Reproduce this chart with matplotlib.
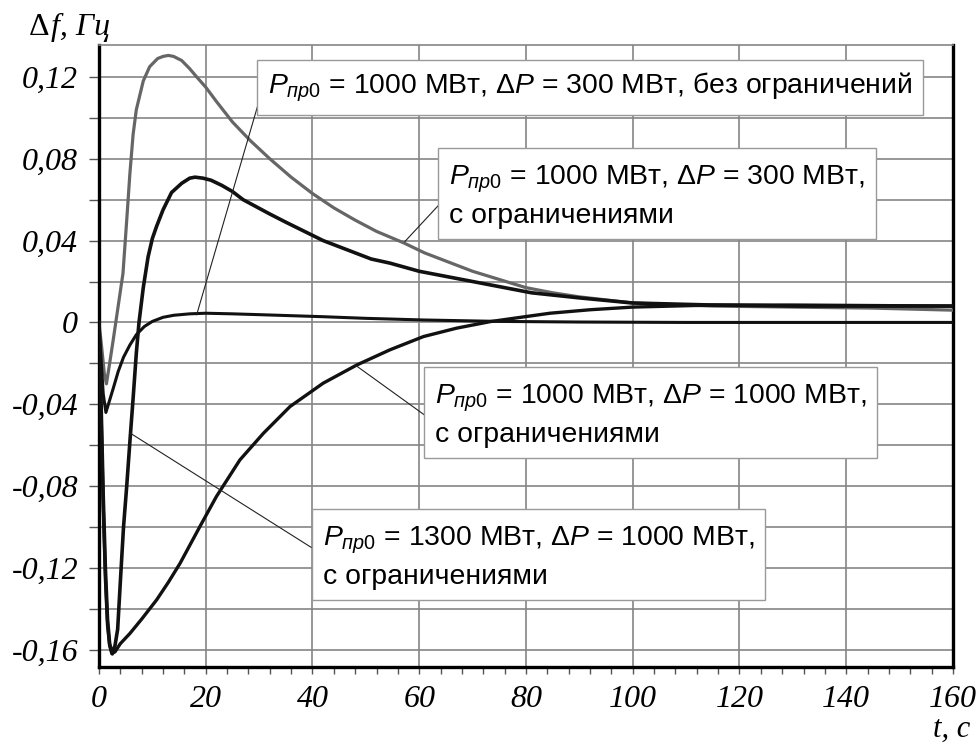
import matplotlib
matplotlib.use('Agg')
import matplotlib.pyplot as plt
from matplotlib.ticker import MultipleLocator, FuncFormatter

plt.rcParams['font.family'] = ['Liberation Sans', 'DejaVu Sans']
plt.rcParams['mathtext.fontset'] = 'custom'
plt.rcParams['mathtext.rm'] = 'Liberation Sans'
plt.rcParams['mathtext.it'] = 'Liberation Sans:italic'

# P=1000, dP=300, без ограничений
t_a = [0, 0.4, 0.8, 1.3, 2.0, 2.7, 3.6, 4.6, 5.8, 7.0, 8.5, 10, 12, 14, 17, 20,
       25, 30, 42, 50, 60.8, 75, 90, 110, 130, 160]
f_a = [0, -0.018, -0.035, -0.044, -0.038, -0.032, -0.024, -0.017, -0.011, -0.006,
       -0.002, 0.0005, 0.0025, 0.0035, 0.0042, 0.0045, 0.0042, 0.0038, 0.0028,
       0.002, 0.0012, 0.0005, 0.0002, 0.0, 0.0, 0.0]

# P=1000, dP=300, с ограничениями (серая)
t_b = [0, 0.5, 1.0, 1.4, 2.0, 2.7, 3.6, 4.5, 5.2, 5.8, 6.4, 7.0, 8.3, 9.5, 11, 12,
       13, 14, 15.5, 17, 18.3, 20, 22, 25, 28.3, 32, 36, 40, 44, 48, 52, 57, 61,
       66, 70, 75, 80, 85, 90, 100, 115, 130, 145, 160]
f_b = [0, -0.012, -0.025, -0.030, -0.020, -0.008, 0.008, 0.024, 0.05, 0.073, 0.092,
       0.104, 0.118, 0.125, 0.129, 0.130, 0.1305, 0.130, 0.128, 0.124, 0.120, 0.115,
       0.108, 0.098, 0.089, 0.080, 0.071, 0.063, 0.056, 0.050, 0.0445, 0.039, 0.034,
       0.029, 0.025, 0.021, 0.017, 0.0145, 0.0125, 0.0095, 0.008, 0.0075, 0.007,
       0.006]

# P=1300, dP=1000, с ограничениями
t_c = [0, 0.4, 0.8, 1.2, 1.6, 2.0, 2.5, 3.0, 3.5, 4.0, 4.6, 5.2, 5.8, 6.4, 7.0, 7.5,
       8.3, 9.2, 10.0, 10.8, 12, 13.6, 15.5, 17, 18, 19.5, 21, 23, 25, 27, 29.5, 32,
       35, 38.5, 42, 45, 48, 51, 54.5, 60, 66, 72, 81, 90, 100, 115, 130, 145, 160]
f_c = [0, -0.04, -0.085, -0.12, -0.145, -0.157, -0.162, -0.158, -0.15, -0.127, -0.10,
       -0.08, -0.058, -0.037, -0.015, 0.0, 0.017, 0.032, 0.041, 0.047, 0.055, 0.0635,
       0.068, 0.0705, 0.071, 0.0705, 0.0695, 0.067, 0.064, 0.060, 0.0565, 0.053,
       0.049, 0.0445, 0.040, 0.037, 0.034, 0.031, 0.029, 0.025, 0.022, 0.019,
       0.0145, 0.012, 0.0095, 0.0085, 0.008, 0.008, 0.008]

# P=1000, dP=1000, с ограничениями
t_d = [0, 0.4, 0.8, 1.2, 1.6, 2.0, 2.4, 3.0, 4.0, 5.8, 8.0, 10.8, 13, 15.2, 18.9,
       22.0, 26.4, 30.8, 35.8, 42.0, 48.3, 54.5, 60.8, 67.0, 73.3, 79, 84.5, 92,
       100, 115, 130, 160]
f_d = [0, -0.045, -0.09, -0.125, -0.148, -0.158, -0.1617, -0.161, -0.157, -0.152,
       -0.145, -0.1356, -0.127, -0.1177, -0.0998, -0.0851, -0.0672, -0.0542,
       -0.0411, -0.0297, -0.0208, -0.0134, -0.0069, -0.0028, 0.0004, 0.0025, 0.0045,
       0.0062, 0.0075, 0.0085, 0.0085, 0.008]

labels = [
    r"$P_{пр0}$ = 1000 МВт, $\Delta P$ = 300 МВт, без ограничений",
    "$P_{пр0}$ = 1000 МВт, $\\Delta P$ = 300 МВт,\nс ограничениями",
    "$P_{пр0}$ = 1000 МВт, $\\Delta P$ = 1000 МВт,\nс ограничениями",
    "$P_{пр0}$ = 1300 МВт, $\\Delta P$ = 1000 МВт,\nс ограничениями",
]
# text anchor (t, f), point on curve and start of the leader line
label_pos = [(31.6, 0.1149), (65.6, 0.0618), (62.9, -0.0452), (41.9, -0.1146)]
label_tip = [(18.3, 0.0037), (57.3, 0.0395), (48.0, -0.0208), (5.8, -0.054)]
label_root = [(30.6, 0.1136), (64.6, 0.0600), (61.4, -0.0460), (39.8, -0.1100)]

fig = plt.figure(figsize=(9.76, 7.46), dpi=100)
ax = fig.add_axes([0.1014, 0.1059, 0.875, 0.8338])

ax.plot(t_b, f_b, color='#666666', lw=2.3, zorder=3)
ax.plot(t_c, f_c, color='#111111', lw=2.6, zorder=3)
ax.plot(t_d, f_d, color='#111111', lw=2.4, zorder=3)
ax.plot(t_a, f_a, color='#111111', lw=2.2, zorder=3)

for txt, pos, tip, root in zip(labels, label_pos, label_tip, label_root):
    ax.annotate('', xy=tip, xytext=root,
                arrowprops=dict(arrowstyle='-', color='#222222', lw=0.8,
                                shrinkA=0, shrinkB=0), zorder=4)
    ax.text(pos[0], pos[1], txt, fontsize=20.4, ha='left', va='center',
            linespacing=1.4, zorder=5,
            bbox=dict(boxstyle='square,pad=0.38', fc='white', ec='#999999', lw=1))

ax.set_xlim(0, 160)
ax.set_ylim(-0.1684, 0.1356)
ax.xaxis.set_major_locator(MultipleLocator(20))
ax.xaxis.set_minor_locator(MultipleLocator(4))
ax.yaxis.set_major_locator(MultipleLocator(0.04))
ax.yaxis.set_minor_locator(MultipleLocator(0.02))
ax.yaxis.set_major_formatter(FuncFormatter(
    lambda v, p: '0' if abs(v) < 1e-9 else ('%.2f' % v).replace('.', ',')))

ax.grid(True, which='major', color='#858585', lw=1.2, zorder=0)
ax.grid(True, which='minor', axis='y', color='#858585', lw=1.2, zorder=0)
ax.set_axisbelow(True)

ax.tick_params(axis='both', which='both', direction='out', color='#555555', width=1)
ax.tick_params(axis='y', which='both', length=7, pad=8)
ax.tick_params(axis='x', which='major', length=5, pad=8)
ax.tick_params(axis='x', which='minor', length=5)
for lab in ax.get_xticklabels() + ax.get_yticklabels():
    lab.set_family('Liberation Serif')
    lab.set_style('italic')
    lab.set_fontsize(23)

for s in ['left', 'bottom', 'right']:
    ax.spines[s].set_linewidth(2.4)
    ax.spines[s].set_color('black')
ax.spines['top'].set_linewidth(1.2)
ax.spines['top'].set_color('#858585')

fig.text(0.029, 0.953, 'Δ', family='Liberation Serif', fontsize=23,
         ha='left', va='baseline')
fig.text(0.052, 0.953, 'f, Гц', family='Liberation Serif', style='italic',
         fontsize=23, ha='left', va='baseline')
fig.text(0.994, 0.012, 't, c', family='Liberation Serif', style='italic',
         fontsize=22, ha='right', va='baseline')

fig.savefig('out.png', dpi=100)
